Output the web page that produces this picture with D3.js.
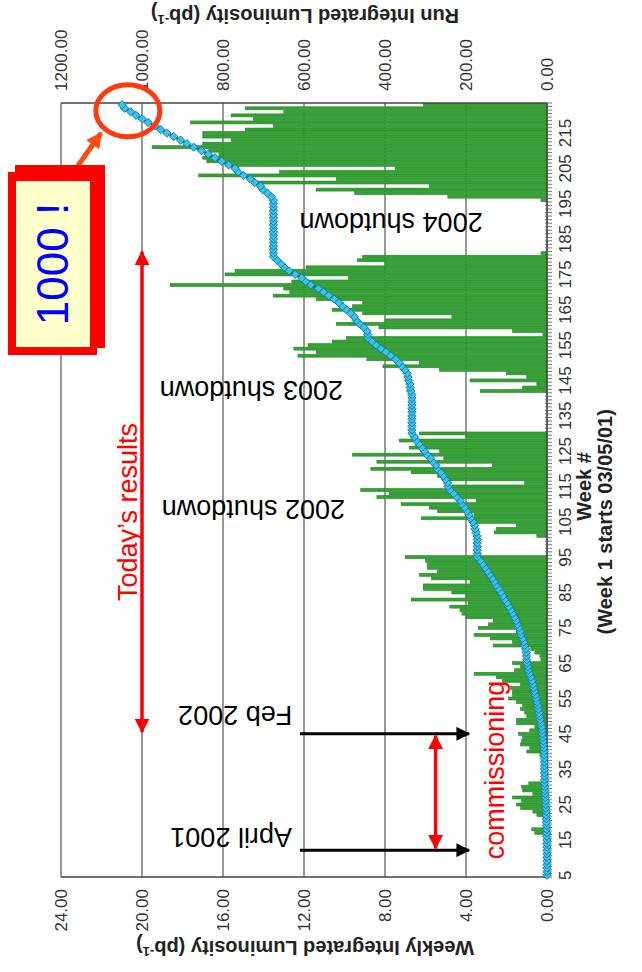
<!DOCTYPE html>
<meta charset="utf-8">
<head>
<style>
body { margin: 0; background: #fff; }
svg { display: block; font-family: "Liberation Sans", Arial, sans-serif; }
.grid line { stroke: #555; stroke-width: 1.2px; }
.frame line { stroke: #444; stroke-width: 1.3px; }
.cat-tick { stroke: #555; stroke-width: 0.8px; }
.tick-label { font-size: 17px; fill: #333; }
.axis-title { font-size: 20px; font-weight: bold; fill: #222; }
.note { font-size: 27px; fill: #000; }
.red-note { font-size: 27px; fill: #ff0000; }
</style>
<script src="https://d3js.org/d3.v7.min.js"></script>
</head>

<body>
<svg width="642" height="972"></svg>
<script>

// weekly integrated luminosity (pb^-1), week 5 .. week 223
var firstWeek = 5;
var weekly = [
  0.05, 0.05, 0.05, 0.05, 0.1, 0.05, 0.1, 0.05, 0.1, 0.1,            // 5-14
  0.05, 0.1, 0.6, 0.75, 0.1, 0.1, 0.2, 0.5, 0.7, 1.3,                // 15-24
  1.5, 1.25, 1.7, 0.7, 1.2, 1.25, 0.9, 0.2, 0.15, 0.1,               // 25-34
  0.1, 0.2, 0.25, 0.2, 0.35, 1.0, 0.85, 1.3, 1.25, 1.2,              // 35-44
  1.4, 0.85, 0.6, 1.5, 1.5, 1.0, 1.1, 1.3, 1.2, 1.5,                 // 45-54
  1.9, 1.7, 1.7, 1.8, 1.3, 2.2, 2.5, 3.6, 1.6, 1.3,                  // 55-64
  1.7, 0.3, 0.35, 0.6, 0.8, 2.65, 1.7, 2.8, 3.6, 1.5,                // 65-74
  3.4, 2.9, 2.65, 4.0, 4.2, 4.3, 4.8, 3.9, 6.7, 4.0,                 // 75-84
  4.7, 6.1, 6.1, 3.8, 5.7, 6.3, 5.4, 5.9, 5.9, 6.0,                  // 85-94
  7.0, 0, 0, 0, 0, 0, 0.5, 2.6, 2.5, 1.5,                            // 95-104
  3.6, 6.2, 3.6, 5.4, 5.8, 7.2, 3.5, 8.4, 7.8, 9.2,                  // 105-114
  4.7, 1.1, 5.0, 5.4, 6.7, 8.7, 2.7, 8.4, 5.1, 9.6,                  // 115-124
  5.3, 6.8, 6.5, 7.3, 4.0, 6.3, 0, 0, 0, 0,                          // 125-134
  0, 0, 0, 0, 0, 0, 0, 3.3, 1.2, 0.5,                                // 135-144
  3.8, 1.0, 2.0, 5.3, 8.1, 6.3, 8.9, 12.3, 11.4, 12.5,               // 145-154
  11.8, 10.6, 9.9, 0.2, 1.7, 8.3, 10.4, 8.0, 4.7, 9.1,               // 155-164
  10.6, 9.6, 9.1, 11.4, 13.5, 12.7, 13.0, 18.6, 12.6, 9.8,           // 165-174
  15.9, 15.4, 11.9, 8.0, 9.35, 9.1, 0.3, 0, 0, 0,                    // 175-184
  0, 0, 0, 0, 0, 0, 0, 0, 0, 0,                                      // 185-194
  0, 0.3, 4.9, 9.5, 11.4, 5.8, 14.4, 10.4, 17.2, 13.2,               // 195-204
  7.5, 15.9, 16.8, 17.0, 16.2, 16.7, 19.5, 17.0, 15.6, 17.0,         // 205-214
  17.0, 14.9, 13.5, 17.6, 14.5, 15.6, 13.0, 14.9, 6.1                // 215-223
];

// run integrated luminosity (pb^-1), same weeks
var cumulative = [
  0.0, 0.0, 0.1, 0.1, 0.2, 0.2, 0.3, 0.3, 0.4, 0.4,                  // 5-14
  0.5, 0.5, 0.8, 1.1, 1.2, 1.3, 1.4, 1.6, 1.9, 2.4,                  // 15-24
  3.0, 3.5, 4.2, 4.5, 5.0, 5.5, 5.9, 6.0, 6.1, 6.2,                  // 25-34
  6.3, 6.4, 6.5, 6.6, 6.8, 7.3, 7.8, 8.6, 9.4, 10.2,                 // 35-44
  11.3, 12.2, 13.2, 15.1, 16.9, 18.2, 19.6, 21.2, 22.8, 24.6,        // 45-54
  26.8, 28.8, 30.8, 32.9, 34.5, 37.0, 39.9, 43.8, 45.7, 47.3,        // 55-64
  49.3, 49.9, 50.6, 51.5, 52.7, 55.6, 57.6, 60.7, 64.6, 66.4,        // 65-74
  70.1, 73.3, 76.4, 80.7, 85.2, 89.8, 94.6, 98.5, 105.2, 109.2,      // 75-84
  113.9, 120.0, 126.1, 129.9, 135.6, 141.9, 147.3, 153.2, 159.1, 165.1, // 85-94
  172.1, 172.1, 172.1, 172.1, 172.1, 172.1, 172.6, 175.2, 177.7, 179.2, // 95-104
  182.8, 189.0, 192.6, 198.0, 203.8, 211.0, 214.5, 222.9, 230.7, 239.9, // 105-114
  244.6, 245.7, 250.7, 256.1, 262.8, 271.5, 274.2, 282.6, 287.7, 297.3, // 115-124
  302.6, 309.4, 315.9, 323.2, 327.2, 333.5, 333.5, 333.5, 333.5, 333.5, // 125-134
  333.5, 333.5, 333.5, 333.5, 333.5, 333.5, 333.5, 336.8, 338.0, 338.5, // 135-144
  342.3, 343.3, 345.3, 350.6, 358.7, 365.0, 373.9, 386.2, 397.6, 410.1, // 145-154
  421.9, 432.5, 442.4, 442.6, 444.3, 452.6, 463.0, 471.0, 475.7, 484.8, // 155-164
  495.4, 505.0, 514.1, 525.5, 539.0, 551.7, 564.7, 583.3, 595.9, 605.7, // 165-174
  621.6, 637.0, 648.9, 656.9, 666.2, 675.3, 675.6, 675.6, 675.6, 675.6, // 175-184
  675.6, 675.6, 675.6, 675.6, 675.6, 675.6, 675.6, 675.6, 675.6, 675.6, // 185-194
  675.6, 675.9, 680.8, 690.3, 701.7, 707.5, 721.9, 732.3, 749.5, 762.7, // 195-204
  770.2, 786.1, 802.9, 819.9, 836.1, 852.8, 872.3, 889.3, 904.9, 921.9, // 205-214
  938.9, 953.8, 967.3, 984.9, 999.4, 1015.0, 1028.0, 1042.9, 1049.0  // 215-223
];

var weekTicks = [5, 15, 25, 35, 45, 55, 65, 75, 85, 95, 105, 115, 125, 135, 145, 155, 165, 175, 185, 195, 205, 215];
var weeklyTicks = [0, 4, 8, 12, 16, 20, 24];
var runTicks = [0, 200, 400, 600, 800, 1000, 1200];

var weeks = weekly.map(function(d, i) { return firstWeek + i; });
var rows = weekly.map(function(d, i) { return {week: weeks[i], lumi: d, run: cumulative[i]}; });

var svg = d3.select("svg");

// the whole chart is drawn "unrotated" and then turned a quarter turn
var left = 61, bottom = 877;
var IW = 774, IH = 486;

var x = d3.scaleBand().domain(weeks).range([0, IW]).paddingInner(0.16).paddingOuter(0.08);
// continuous week position, for the notes that sit between weeks
var xw = d3.scaleLinear()
    .domain([firstWeek - 0.5, weeks[weeks.length - 1] + 0.5])
    .range([0, IW]);
var y = d3.scaleLinear().domain([0, 24]).range([IH, 0]);
var y2 = d3.scaleLinear().domain([0, 1200]).range([IH, 0]);
var bw = x.bandwidth();

var g = svg.append("g")
    .attr("transform", "translate(" + left + "," + bottom + ") rotate(-90)");

// grid
g.append("g").attr("class", "grid")
  .selectAll("line")
  .data(weeklyTicks)
  .enter().append("line")
    .attr("x1", 0).attr("x2", IW)
    .attr("y1", function(d) { return y(d); })
    .attr("y2", function(d) { return y(d); });

// bars
g.append("g")
  .selectAll("rect")
  .data(rows.filter(function(d) { return d.lumi > 0; }))
  .enter().append("rect")
    .attr("x", function(d) { return x(d.week); })
    .attr("y", function(d) { return y(d.lumi); })
    .attr("width", bw)
    .attr("height", function(d) { return IH - y(d.lumi); })
    .attr("fill", "#35a035")
    .attr("stroke", "#1e8a1e")
    .attr("stroke-width", 0.6);

// frame
var frame = g.append("g").attr("class", "frame");
frame.append("line").attr("x1", 0).attr("x2", 0).attr("y1", 0).attr("y2", IH);
frame.append("line").attr("x1", IW).attr("x2", IW).attr("y1", 0).attr("y2", IH);
frame.append("line").attr("x1", 0).attr("x2", IW).attr("y1", IH).attr("y2", IH);

// category tick marks, one per week
g.append("g")
  .selectAll("line")
  .data(d3.range(weeks.length + 1))
  .enter().append("line")
    .attr("class", "cat-tick")
    .attr("x1", function(i) { return i * x.step(); })
    .attr("x2", function(i) { return i * x.step(); })
    .attr("y1", IH - 2)
    .attr("y2", IH + 5);

// run integrated line
var line = d3.line()
    .x(function(d) { return x(d.week) + bw / 2; })
    .y(function(d) { return y2(d.run); });

g.append("path")
    .datum(rows)
    .attr("fill", "none")
    .attr("stroke", "#175f8c")
    .attr("stroke-width", 2.2)
    .attr("d", line);

var diamond = d3.symbol().type(d3.symbolSquare).size(34);
g.append("g")
  .selectAll("path")
  .data(rows)
  .enter().append("path")
    .attr("d", diamond)
    .attr("transform", function(d) {
      return "translate(" + (x(d.week) + bw / 2) + "," + y2(d.run) + ") rotate(45)";
    })
    .attr("fill", "#35c6ee")
    .attr("stroke", "#1672a0")
    .attr("stroke-width", 0.9);

// tick labels
g.append("g")
  .selectAll("text")
  .data(weekTicks)
  .enter().append("text")
    .attr("class", "tick-label")
    .attr("x", function(d) { return x(d) + bw / 2; })
    .attr("y", IH + 12)
    .attr("dy", "0.71em")
    .attr("text-anchor", "middle")
    .text(function(d) { return d; });

g.append("g")
  .selectAll("text")
  .data(weeklyTicks)
  .enter().append("text")
    .attr("class", "tick-label")
    .attr("x", -12)
    .attr("y", function(d) { return y(d); })
    .attr("dy", "0.35em")
    .attr("text-anchor", "end")
    .text(function(d) { return d3.format(".2f")(d); });

g.append("g")
  .selectAll("text")
  .data(runTicks)
  .enter().append("text")
    .attr("class", "tick-label")
    .attr("x", IW + 12)
    .attr("y", function(d) { return y2(d); })
    .attr("dy", "0.35em")
    .attr("text-anchor", "start")
    .text(function(d) { return d3.format(".2f")(d); });

// helpers: picture position for a weekly value and a (possibly fractional) week
function px(v) { return left + y(v); }
function py(w) { return bottom - xw(w); }

function turned(tx, ty, angle) {
  return "translate(" + tx + "," + ty + ") rotate(" + angle + ")";
}

// axis titles
function title(tx, ty, angle, main, sup, after) {
  var t = svg.append("text")
      .attr("class", "axis-title")
      .attr("transform", turned(tx, ty, angle))
      .attr("text-anchor", "middle")
      .attr("dy", "0.35em");
  t.append("tspan").text(main);
  if (sup) {
    t.append("tspan").attr("dy", "-0.45em").attr("font-size", "13px").text(sup);
    t.append("tspan").attr("dy", "0.45em").text(after);
  }
  return t;
}
title(305, 16, 180, "Run Integrated Luminosity (pb", "-1", ")");
title(305, 948, 180, "Weekly Integrated Luminosity (pb", "-1", ")");
title(584, py(115), -90, "Week #");
title(605, py(105), -90, "(Week 1 starts 03/05/01)");

// annotations
function note(cls, txt, tx, ty, angle) {
  svg.append("text")
      .attr("class", cls)
      .attr("transform", turned(tx, ty, angle))
      .attr("text-anchor", "middle")
      .attr("dy", "0.35em")
      .text(txt);
}
note("note", "2004 shutdown", px(7.7), py(189.8), 180);
note("note", "2003 shutdown", px(14.6), py(142.3), 180);
note("note", "2002 shutdown", px(14.5), py(108.6), 180);
note("note", "Feb 2002", px(15.4), py(50.1), 180);
note("note", "April 2001", px(15.6), py(15.8), 180);
note("red-note", "commissioning", px(2.6), py(34.8), -90);
note("red-note", "Today\u2019s results", px(20.7), py(107.8), -90);

var defs = svg.append("defs");
function head(id, color, size) {
  defs.append("marker")
      .attr("id", id)
      .attr("viewBox", "0 -5 10 10")
      .attr("refX", 9).attr("refY", 0)
      .attr("markerWidth", size).attr("markerHeight", size)
      .attr("markerUnits", "userSpaceOnUse")
      .attr("orient", "auto-start-reverse")
    .append("path")
      .attr("d", "M0,-5L10,0L0,5Z")
      .attr("fill", color);
}
head("blackHead", "#000", 14);
head("redHead", "#ff0000", 15);
head("orangeHead", "#ff4a10", 16);

function arrow(x1, y1, x2, y2, color, width, start, end) {
  var a = svg.append("line")
      .attr("x1", x1).attr("y1", y1).attr("x2", x2).attr("y2", y2)
      .attr("stroke", color).attr("stroke-width", width);
  if (start) a.attr("marker-start", "url(#" + start + ")");
  if (end) a.attr("marker-end", "url(#" + end + ")");
}
arrow(px(12.2), py(45), px(3.85), py(45), "#000", 3, null, "blackHead");
arrow(px(12.2), py(12.1), px(3.85), py(12.1), "#000", 3, null, "blackHead");
arrow(px(5.5), py(44.5), px(5.5), py(12.6), "#ff0000", 3.5, "redHead", "redHead");
arrow(px(20), py(181.4), px(20), py(45.5), "#ff0000", 3.5, "redHead", "redHead");

// "1000 !" callout
svg.append("ellipse")
    .attr("cx", px(20.7)).attr("cy", py(221.3))
    .attr("rx", 32).attr("ry", 26)
    .attr("fill", "none")
    .attr("stroke", "#ff3a10")
    .attr("stroke-width", 5);

arrow(70, 177, 101, 133, "#ff4a10", 5, null, "orangeHead");

svg.append("rect").attr("x", 15).attr("y", 165).attr("width", 90).attr("height", 183).attr("fill", "#ff0000");
svg.append("rect").attr("x", 8).attr("y", 172).attr("width", 89).attr("height", 183).attr("fill", "#ff0000");
svg.append("rect").attr("x", 16).attr("y", 181).attr("width", 74).attr("height", 166).attr("fill", "#ffffcc");
svg.append("text")
    .attr("transform", turned(53, 264, -90))
    .attr("text-anchor", "middle")
    .attr("dy", "0.35em")
    .attr("font-size", "44px")
    .attr("fill", "#0000ff")
    .text("1000 !");

</script>
</body>
